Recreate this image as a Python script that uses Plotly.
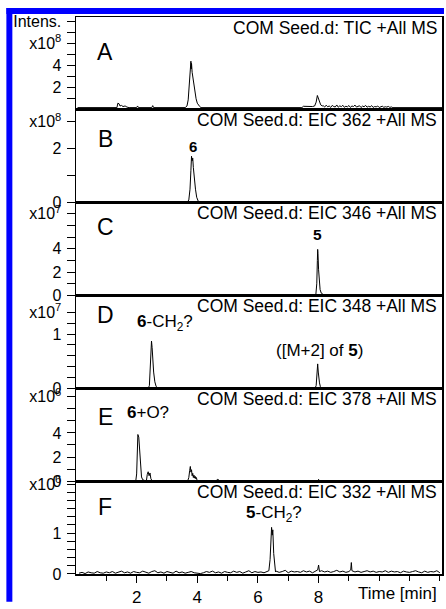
import plotly.graph_objects as go
from plotly.subplots import make_subplots

# ---------------- data (intensities in units of the panel exponent) ----------------
t_A = [0.05, 1.10, 1.35, 1.38, 1.42, 1.45, 1.50, 1.55, 1.62, 1.68, 1.75, 2.00, 2.03, 2.06, 2.50, 2.53, 2.56,
       3.60, 3.66, 3.70, 3.73, 3.76, 3.79, 3.80, 3.81, 3.83, 3.85, 3.87, 3.90, 3.93, 3.96, 4.00, 4.04, 4.08, 4.12,
       7.45, 7.50, 7.60, 7.70, 7.80, 7.87, 7.92, 7.96, 7.98, 8.00, 8.03, 8.07, 8.12,
       8.15, 8.20, 8.25, 8.30, 8.35, 8.40, 8.45, 8.50, 8.55, 8.60, 8.65, 8.70, 8.75, 8.80, 8.85, 8.90,
       8.95, 9.00, 9.05, 9.10, 9.15, 9.20, 9.25, 9.30, 9.35, 9.40, 9.45, 9.50, 9.55, 9.60, 9.65, 9.70,
       9.75, 9.80, 9.85, 9.90, 9.95, 10.00, 10.05, 10.10, 10.15, 10.20, 10.25, 10.30, 10.35, 10.40, 10.45,
       12.07]
i_A = [0.20, 0.20, 0.20, 0.60, 0.55, 0.35, 0.40, 0.30, 0.35, 0.25, 0.20, 0.20, 0.35, 0.20, 0.20, 0.38, 0.20,
       0.20, 0.35, 0.90, 2.00, 3.30, 4.40, 3.70, 4.20, 3.40, 3.00, 2.60, 1.90, 1.40, 1.00, 0.60, 0.40, 0.30, 0.20,
       0.20, 0.32, 0.30, 0.33, 0.30, 0.35, 0.70, 1.30, 1.10, 1.00, 0.60, 0.45, 0.35,
       0.38, 0.25, 0.42, 0.28, 0.35, 0.22, 0.40, 0.30, 0.26, 0.44, 0.24, 0.36, 0.29, 0.41, 0.23, 0.33,
       0.27, 0.39, 0.22, 0.35, 0.30, 0.43, 0.25, 0.31, 0.37, 0.21, 0.34, 0.28, 0.40, 0.24, 0.32, 0.26,
       0.38, 0.22, 0.30, 0.27, 0.35, 0.21, 0.29, 0.33, 0.23, 0.28, 0.25, 0.31, 0.22, 0.26, 0.20,
       0.20]

t_B = [0.05, 3.66, 3.72, 3.76, 3.79, 3.81, 3.83, 3.85, 3.87, 3.90, 3.94, 3.98, 4.03, 4.08, 12.07]
i_B = [0.0, 0.0, 0.10, 0.50, 1.20, 1.72, 1.55, 1.65, 1.30, 0.90, 0.50, 0.20, 0.06, 0.0, 0.0]

t_C = [0.05, 7.86, 7.91, 7.94, 7.96, 7.97, 7.98, 8.00, 8.02, 8.05, 8.09, 8.14, 8.20, 12.07]
i_C = [0.0, 0.0, 0.10, 1.00, 3.00, 3.95, 3.60, 2.20, 1.20, 0.50, 0.20, 0.08, 0.0, 0.0]

t_D = [0.05, 2.38, 2.42, 2.45, 2.47, 2.49, 2.51, 2.53, 2.56, 2.60, 2.64, 2.70,
       7.88, 7.92, 7.95, 7.97, 7.99, 8.01, 8.03, 8.06, 8.10, 12.07]
i_D = [0.0, 0.0, 0.05, 0.35, 0.70, 0.87, 0.75, 0.55, 0.30, 0.12, 0.04, 0.0,
       0.0, 0.05, 0.25, 0.45, 0.30, 0.12, 0.10, 0.03, 0.0, 0.0]

t_E = [0.05, 1.97, 2.00, 2.02, 2.04, 2.07, 2.10, 2.13, 2.16, 2.20, 2.25, 2.32, 2.35, 2.38, 2.41, 2.44, 2.47, 2.52,
       3.68, 3.72, 3.75, 3.77, 3.79, 3.81, 3.83, 3.85, 3.87, 3.89, 3.91, 3.93, 3.95, 3.97, 4.00,
       4.62, 4.66, 4.70, 4.75, 7.97, 8.00, 8.03, 12.07]
i_E = [0.0, 0.0, 0.60, 2.80, 3.87, 3.65, 2.60, 1.10, 0.35, 0.12, 0.05, 0.0, 0.55, 0.78, 0.45, 0.68, 0.20, 0.0,
       0.0, 0.30, 0.90, 1.22, 0.75, 0.95, 0.45, 0.65, 0.30, 0.50, 0.25, 0.40, 0.20, 0.30, 0.0,
       0.0, 0.15, 0.12, 0.0, 0.0, 0.15, 0.0, 0.0]

t_F = [0.1, 0.2, 0.3, 0.4, 0.5, 0.6, 0.7, 0.8, 0.9, 1.0,
       1.1, 1.2, 1.3, 1.4, 1.5, 1.6, 1.7, 1.8, 1.9, 2.0,
       2.1, 2.2, 2.3, 2.4, 2.5, 2.6, 2.7, 2.8, 2.9, 3.0,
       3.1, 3.2, 3.3, 3.4, 3.5, 3.6, 3.7, 3.8, 3.9, 4.0,
       4.1, 4.2, 4.3, 4.4, 4.5, 4.6, 4.7, 4.8, 4.9, 5.0,
       5.1, 5.2, 5.3, 5.4, 5.5, 5.6, 5.7, 5.8, 5.9, 6.0,
       6.1, 6.2, 6.3, 6.36, 6.40, 6.43, 6.45, 6.47, 6.49, 6.52,
       6.55, 6.58, 6.6, 6.7, 6.8, 6.9, 7.0, 7.1, 7.2, 7.3,
       7.4, 7.5, 7.6, 7.7, 7.8, 7.9, 7.97, 8.0, 8.03, 8.1,
       8.2, 8.3, 8.4, 8.5, 8.6, 8.7, 8.8, 8.9, 9.0, 9.06,
       9.08, 9.1, 9.2, 9.3, 9.4, 9.5, 9.6, 9.7, 9.8, 9.9,
       10.0, 10.1, 10.2, 10.3, 10.4, 10.5, 10.6, 10.7, 10.8, 10.9,
       11.0, 11.1, 11.2, 11.3, 11.4, 11.5, 11.6, 11.7, 11.8, 11.9,
       12.0]
i_F = [0.02, 0.04, 0.01, 0.05, 0.03, 0.02, 0.06, 0.03, 0.02, 0.05,
       0.03, 0.06, 0.02, 0.04, 0.07, 0.03, 0.05, 0.02, 0.06, 0.04,
       0.03, 0.07, 0.04, 0.02, 0.06, 0.08, 0.03, 0.05, 0.02, 0.06,
       0.04, 0.02, 0.07, 0.03, 0.05, 0.02, 0.04, 0.06, 0.03, 0.02,
       0.01, 0.03, 0.06, 0.04, 0.07, 0.03, 0.05, 0.02, 0.06, 0.04,
       0.03, 0.07, 0.04, 0.06, 0.02, 0.05, 0.08, 0.03, 0.06, 0.04,
       0.05, 0.03, 0.06, 0.08, 0.35, 1.00, 1.14, 0.95, 1.08, 0.50,
       0.12, 0.05, 0.07, 0.04, 0.06, 0.09, 0.03, 0.07, 0.05, 0.06,
       0.04, 0.08, 0.05, 0.07, 0.03, 0.06, 0.10, 0.22, 0.06, 0.08,
       0.05, 0.07, 0.04, 0.06, 0.09, 0.05, 0.07, 0.04, 0.06, 0.10,
       0.28, 0.08, 0.05, 0.07, 0.04, 0.06, 0.08, 0.05, 0.07, 0.04,
       0.06, 0.05, 0.08, 0.04, 0.07, 0.05, 0.06, 0.03, 0.07, 0.05,
       0.04, 0.06, 0.08, 0.05, 0.03, 0.07, 0.04, 0.06, 0.05, 0.08,
       0.03]

panel_letters = ["A", "B", "C", "D", "E", "F"]
panel_titles = ["COM Seed.d: TIC +All MS", "COM Seed.d: EIC 362 +All MS", "COM Seed.d: EIC 346 +All MS",
                "COM Seed.d: EIC 348 +All MS", "COM Seed.d: EIC 378 +All MS", "COM Seed.d: EIC 332 +All MS"]
# labelled y ticks
y_tickvals = [[2, 4, 6, 8],
              [0, 2, 3],
              [0, 2, 4, 7],
              [0, 1.0, 1.4],
              [0, 2, 4, 7],
              [0, 1.0, 2.2]]
y_ticktext = [["2", "4", "x10<sup>8</sup>", "Intens."],
              ["0", "2", "x10<sup>8</sup>"],
              ["0", "2", "4", "x10<sup>7</sup>"],
              ["0", "1", "x10<sup>7</sup>"],
              ["0", "2", "4", "x10<sup>6</sup>"],
              ["0", "1", "x10<sup>6</sup>"]]
# unlabelled y ticks
y_minorvals = [[1, 3, 5, 7],
               [1],
               [1, 3, 5, 6],
               [0.2, 0.4, 0.6, 0.8, 1.2],
               [1, 3, 5, 6],
               [0.2, 0.4, 0.6, 0.8, 1.2, 1.4, 1.6, 1.8, 2.0]]
y_max = [8.4, 3.44, 7.95, 1.71, 7.7, 2.27]
x_tickvals = [2, 4, 6, 8]
x_ticktext = ["2", "4", "6", "8"]
x_minorvals = [1, 3, 5, 7, 9, 10, 11, 12]
x_title = "Time [min]"

# peak labels: (row, time, intensity, text, font size)
peak_labels = [(2, 3.85, 2.07, "<b>6</b>", 15),
               (3, 7.95, 5.2, "<b>5</b>", 15.5),
               (4, 2.92, 1.2, "<b>6</b>-CH<sub>2</sub>?", 17),
               (4, 8.03, 0.69, "([M+2] of <b>5</b>)", 17),
               (5, 2.36, 5.7, "<b>6</b>+O?", 17),
               (6, 6.53, 1.46, "<b>5</b>-CH<sub>2</sub>?", 17)]
letter_offsets = [35, 29, 24, 19, 29, 26]

traces_t = [t_A, t_B, t_C, t_D, t_E, t_F]
traces_i = [i_A, i_B, i_C, i_D, i_E, i_F]

FONT = "Liberation Sans, Arial, sans-serif"
W, H = 446, 609
ML, MR, MT, MB = 76, 2, 17, 28

fig = make_subplots(rows=6, cols=1, shared_xaxes=True, vertical_spacing=0)

for k in range(6):
    r = k + 1
    fig.add_trace(go.Scatter(x=traces_t[k], y=traces_i[k], mode="lines",
                             line=dict(color="black", width=1), showlegend=False, hoverinfo="skip"),
                  row=r, col=1)
    fig.update_yaxes(range=[0, y_max[k]], tickmode="array", tickvals=y_tickvals[k], ticktext=y_ticktext[k],
                     ticks="outside", ticklen=8, tickwidth=1, tickcolor="black",
                     minor=dict(tickmode="array", tickvals=y_minorvals[k], ticks="outside", ticklen=8,
                                tickwidth=1, tickcolor="black", showgrid=False),
                     showline=True, linecolor="black", linewidth=1.5, mirror=True,
                     showgrid=False, zeroline=False, ticklabelstandoff=2,
                     tickfont=dict(family=FONT, size=16, color="black"), row=r, col=1)
    fig.update_xaxes(range=[0, 12.07], showline=True, linecolor="black", linewidth=1.5, mirror=True,
                     showgrid=False, zeroline=False, row=r, col=1)
    if r < 6:
        fig.update_xaxes(ticks="", showticklabels=False, row=r, col=1)
    # panel title
    fig.add_annotation(text=panel_titles[k], xref="x domain", yref="y domain", x=1, y=1,
                       xanchor="right", yanchor="middle", xshift=-3, yshift=-10.5, showarrow=False,
                       font=dict(family=FONT, size=17.5, color="black"), row=r, col=1)
    # panel letter
    fig.add_annotation(text=panel_letters[k], xref="x domain", yref="y domain", x=0, y=1,
                       xanchor="center", yanchor="middle", xshift=29, yshift=-letter_offsets[k],
                       showarrow=False, font=dict(family=FONT, size=23, color="black"), row=r, col=1)

fig.update_xaxes(tickmode="array", tickvals=x_tickvals, ticktext=x_ticktext, ticks="outside",
                 ticklen=7, tickwidth=1, tickcolor="black", showticklabels=True,
                 tickfont=dict(family=FONT, size=17, color="black"),
                 minor=dict(tickmode="array", tickvals=x_minorvals, ticks="outside", ticklen=5,
                            tickcolor="black", tickwidth=1, showgrid=False),
                 row=6, col=1)

for (r, tx, iy, txt, fs) in peak_labels:
    fig.add_annotation(text=txt, x=tx, y=iy, xanchor="center", yanchor="middle", showarrow=False,
                       font=dict(family=FONT, size=fs, color="black"), row=r, col=1)

fig.add_annotation(text=x_title, xref="paper", yref="paper", x=1, y=0, xanchor="right", yanchor="middle",
                   xshift=-3, yshift=-19, showarrow=False, font=dict(family=FONT, size=17, color="black"))

# blue frame
pw = W - ML - MR
ph = H - MT - MB
def px_x(x):
    return (x - ML) / pw
def px_y(y):
    return (H - MB - y) / ph
fig.add_shape(type="rect", xref="paper", yref="paper", x0=px_x(6), x1=px_x(12), y0=px_y(609), y1=px_y(8),
              fillcolor="#0000ff", line=dict(width=0), layer="above")
fig.add_shape(type="rect", xref="paper", yref="paper", x0=px_x(6), x1=px_x(446), y0=px_y(14), y1=px_y(8),
              fillcolor="#0000ff", line=dict(width=0), layer="above")

fig.update_layout(width=W, height=H, margin=dict(l=ML, r=MR, t=MT, b=MB),
                  paper_bgcolor="white", plot_bgcolor="white",
                  font=dict(family=FONT, color="black"), showlegend=False)

fig.write_html("out.html", config={"displayModeBar": False, "staticPlot": True},
               post_script="document.body.style.margin='0';document.body.style.overflow='hidden';")
